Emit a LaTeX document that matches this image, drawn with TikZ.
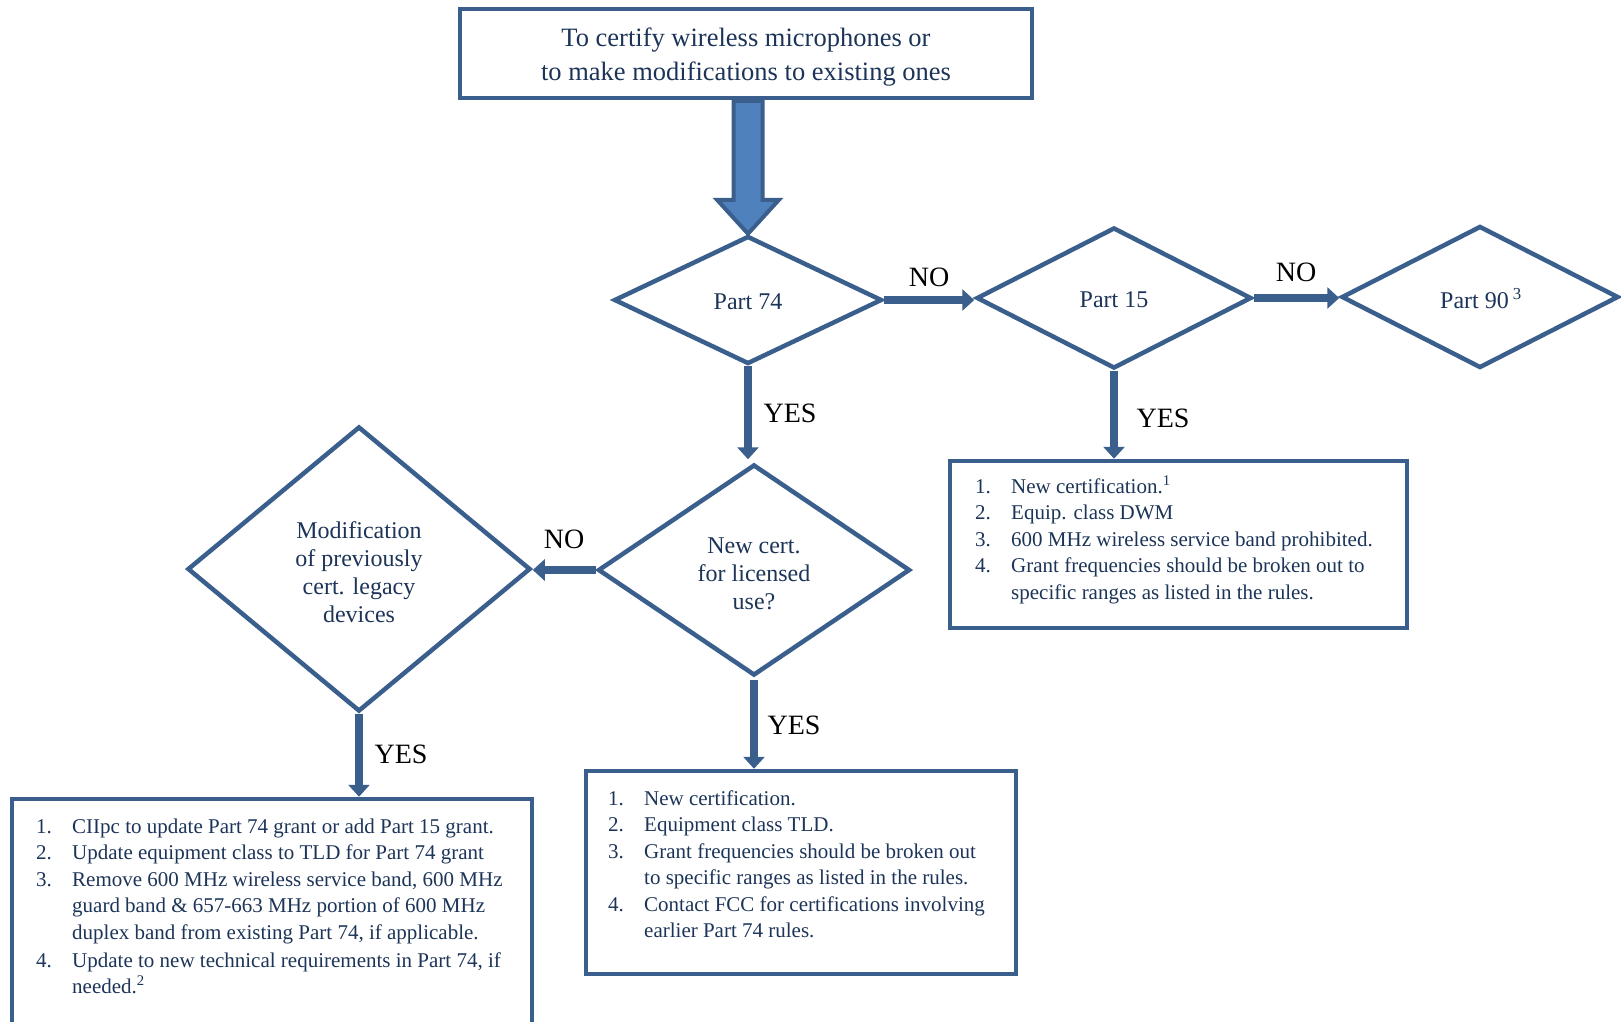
\documentclass[tikz,border=0pt]{standalone}
\usepackage{fontspec}
\setmainfont{Liberation Serif}
\usetikzlibrary{shapes.geometric,arrows.meta,calc}
\definecolor{edge}{RGB}{58,95,140}
\definecolor{ink}{RGB}{28,52,88}
\definecolor{fillb}{RGB}{79,129,189}
\begin{document}
\begin{tikzpicture}[x=1pt,y=-1pt,
  dia/.style={diamond, draw=edge, line width=4.5pt, inner sep=0pt},
  diatext/.style={align=center, text=ink, inner sep=0pt, font=\fontsize{24}{28}\selectfont},
  boxed/.style={draw=edge, line width=4.5pt, inner sep=0pt},
  conn/.style={draw=edge, line width=7.5pt, -{Triangle[width=21pt,length=12pt]}},
  lab/.style={font=\fontsize{28}{30}\selectfont, text=black, inner sep=0pt},
  listtext/.style={text=ink, font=\fontsize{21}{26.5}\selectfont, inner sep=0pt, anchor=base west, align=left},
  bigarrow/.style={fill=fillb, draw=edge, line width=4pt, line join=miter}
]
\useasboundingbox (0,0) rectangle (1621,1021);
\clip (0,0) rectangle (1621,1021);

% top box
\node[boxed, minimum width=572pt, minimum height=89pt] (top) at (746,53.5) {};
\node[align=center, text=ink, inner sep=0pt, font=\fontsize{26.5}{34}\selectfont] (toptext) at (746,57)
  {To certify wireless microphones or\\to make modifications to existing ones};

% diamonds
\node[dia, minimum width=268pt, minimum height=128pt] (d74) at (748,300) {};
\node[dia, minimum width=275pt, minimum height=141pt] (d15) at (1114,298) {};
\node[dia, minimum width=277pt, minimum height=142pt] (d90) at (1480,297) {};
\node[dia, minimum width=312pt, minimum height=211pt] (dnew) at (754,570) {};
\node[dia, minimum width=343pt, minimum height=285pt] (dmod) at (359,569) {};

\node[diatext] (d74t) at (748,302) {Part 74};
\node[diatext] (d15t) at (1114,300) {Part 15};
\node[diatext] (d90t) at (1481,299) {Part 90\,\textsuperscript{3}};
\node[diatext] (dnewt) at (754,574) {New cert.\\for licensed\\use?};
\node[diatext] (dmodt) at (359,572) {Modification\\of previously\\cert. legacy\\devices};

% result boxes
\node[boxed, minimum width=457pt, minimum height=167pt] (b15) at (1178.5,544.5) {};
\node[boxed, minimum width=430pt, minimum height=203pt] (bmid) at (801,872.5) {};
\node[boxed, minimum width=520pt, minimum height=242pt] (bleft) at (272,920) {};

\node[listtext] (t15) at (975,493) {\begin{tabular}[t]{@{}p{36pt}@{}l@{}}
1. & New certification.\textsuperscript{1}\\
2. & Equip. class DWM\\
3. & 600 MHz wireless service band prohibited.\\
4. & Grant frequencies should be broken out to\\
   & specific ranges as listed in the rules.
\end{tabular}};

\node[listtext] (tmid) at (608,805) {\begin{tabular}[t]{@{}p{36pt}@{}l@{}}
1. & New certification.\\
2. & Equipment class TLD.\\
3. & Grant frequencies should be broken out\\
   & to specific ranges as listed in the rules.\\
4. & Contact FCC for certifications involving\\
   & earlier Part 74 rules.
\end{tabular}};

\node[listtext] (tleft) at (36,833) {\begin{tabular}[t]{@{}p{36pt}@{}l@{}}
1. & CIIpc to update Part 74 grant or add Part 15 grant.\\
2. & Update equipment class to TLD for Part 74 grant\\
3. & Remove 600 MHz wireless service band, 600 MHz\\
   & guard band \& 657-663 MHz portion of 600 MHz\\
   & duplex band from existing Part 74, if applicable.\\[1.5pt]
4. & Update to new technical requirements in Part 74, if\\
   & needed.\textsuperscript{2}
\end{tabular}};

% big block arrow from top box to Part 74
\draw[bigarrow] ($(d74.north)+(-14.5,-133)$) -- ($(d74.north)+(14.5,-133)$)
  -- ($(d74.north)+(14.5,-34)$) -- ($(d74.north)+(31,-34)$) -- (d74.north)
  -- ($(d74.north)+(-31,-34)$) -- ($(d74.north)+(-14.5,-34)$) -- cycle;

% connectors
\draw[conn] (d74.east) -- (d74.east -| d15.west);
\draw[conn] (d15.east) -- (d15.east -| d90.west);
\draw[conn] (d74.south) -- ($(d74.south |- dnew.north)+(0,-3)$);
\draw[conn] (dnew.west) -- (dnew.west -| dmod.east);
\draw[conn] (d15.south) -- (d15.south |- b15.north);
\draw[conn] ($(dnew.south)+(0,2)$) -- (dnew.south |- bmid.north);
\draw[conn] (dmod.south) -- (dmod.south |- bleft.north);

% labels
\node[lab] (lno1) at (929,277) {NO};
\node[lab] (lno2) at (1296,272) {NO};
\node[lab] (lyes74) at (790,413) {YES};
\node[lab] (lnonew) at (564,539) {NO};
\node[lab] (lyes15) at (1163,418) {YES};
\node[lab] (lyesnew) at (794,725) {YES};
\node[lab] (lyesmod) at (401,754) {YES};
\end{tikzpicture}
\end{document}
